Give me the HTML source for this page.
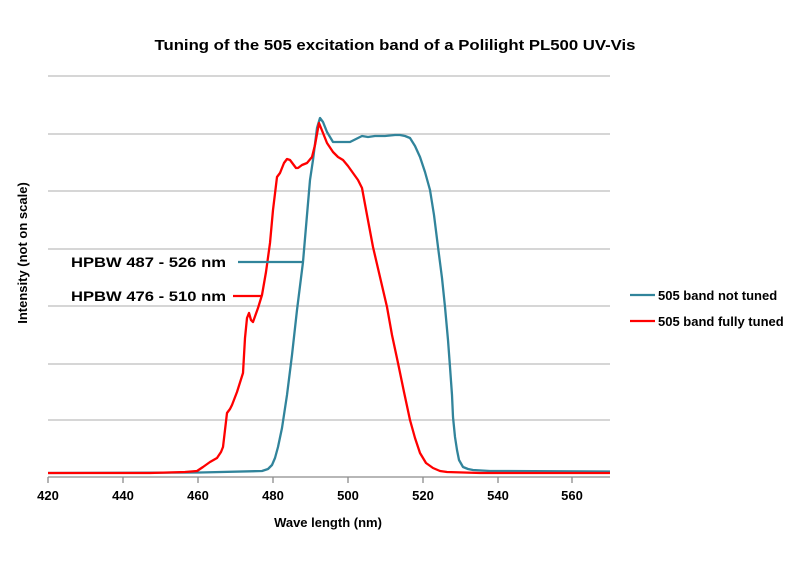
<!DOCTYPE html>
<html><head><meta charset="utf-8"><style>body{margin:0;background:#fff}svg{display:block}text{font-family:"Liberation Sans",Arial,sans-serif;font-weight:bold;fill:#000}</style></head><body>
<svg width="800" height="565" viewBox="0 0 800 565" xmlns="http://www.w3.org/2000/svg">
<rect width="800" height="565" fill="#fff"/>
<text x="395" y="50" font-size="15" text-anchor="middle" textLength="481" lengthAdjust="spacingAndGlyphs">Tuning of the 505 excitation band of a Polilight PL500 UV-Vis</text>
<g stroke="#bdbdbd" stroke-width="1.3">
<line x1="48" y1="76" x2="610" y2="76"/><line x1="48" y1="134" x2="610" y2="134"/><line x1="48" y1="191" x2="610" y2="191"/><line x1="48" y1="249" x2="610" y2="249"/><line x1="48" y1="306" x2="610" y2="306"/><line x1="48" y1="364" x2="610" y2="364"/><line x1="48" y1="420" x2="610" y2="420"/>
</g>
<g stroke="#8c8c8c" stroke-width="1.3">
<line x1="48" y1="477" x2="610" y2="477"/>
<line x1="48" y1="477" x2="48" y2="483"/><line x1="123" y1="477" x2="123" y2="483"/><line x1="198" y1="477" x2="198" y2="483"/><line x1="273" y1="477" x2="273" y2="483"/><line x1="348" y1="477" x2="348" y2="483"/><line x1="423" y1="477" x2="423" y2="483"/><line x1="498" y1="477" x2="498" y2="483"/><line x1="572" y1="477" x2="572" y2="483"/>
</g>
<g font-size="13" text-anchor="middle">
<text x="48" y="500">420</text><text x="123" y="500">440</text><text x="198" y="500">460</text><text x="273" y="500">480</text><text x="348" y="500">500</text><text x="423" y="500">520</text><text x="498" y="500">540</text><text x="572" y="500">560</text>
</g>
<text x="328" y="527" font-size="13" text-anchor="middle">Wave length  (nm)</text>
<text transform="translate(27,253) rotate(-90)" font-size="13" text-anchor="middle">Intensity (not on scale)</text>
<polyline fill="none" stroke="#31849b" stroke-width="2.3" stroke-linejoin="round" points="48,473 200,472.5 262,471 268,469 272,465 275,458 278,447 282,428 287,395 292,355 297,310 303,262 307,215 310,180 313,160 317,128 320,118 323,122 327,132 333,142 340,142 350,142 356,139 362,136 368,137 375,136 385,136 395,135 400,135 405,136 410,138 415,146 420,157 425,172 430,190 434,215 438,247 442,278 445,307 448,340 450,367 452,395 453,417 455,437 457,450 459,460 463,467 468,469 473,470 490,471 610,471.5"/>
<polyline fill="none" stroke="#ff0000" stroke-width="2.3" stroke-linejoin="round" points="48,473 150,473 185,472 197,471 203,467 210,462 217,458 221,452 223,447 225,430 227,413 230,409 232,405 237,392 243,373 245,338 247,318 249,313 251,320 253,322 258,308 262,295 266,272 270,243 273,210 277,177 280,173 284,163 287,159 290,160 293,164 296,168 298,168 302,165 307,163 312,157 315,145 319,123 323,133 327,143 333,152 338,157 343,160 348,166 353,173 358,180 362,188 367,215 373,247 380,277 387,307 392,335 398,363 404,392 410,420 415,438 420,453 426,463 433,468 440,471 447,472 480,473 610,473"/>
<text x="71" y="267" font-size="14" textLength="155" lengthAdjust="spacingAndGlyphs">HPBW 487 - 526 nm</text>
<text x="71" y="301" font-size="14" textLength="155" lengthAdjust="spacingAndGlyphs">HPBW 476 - 510 nm</text>
<line x1="238" y1="262" x2="303" y2="262" stroke="#31849b" stroke-width="2.3"/>
<line x1="233" y1="296" x2="262" y2="296" stroke="#ff0000" stroke-width="2.3"/>
<line x1="630" y1="295" x2="655" y2="295" stroke="#31849b" stroke-width="2.3"/>
<line x1="630" y1="321" x2="655" y2="321" stroke="#ff0000" stroke-width="2.3"/>
<text x="658" y="300" font-size="13">505 band not tuned</text>
<text x="658" y="326" font-size="13">505 band fully tuned</text>
</svg>
</body></html>
